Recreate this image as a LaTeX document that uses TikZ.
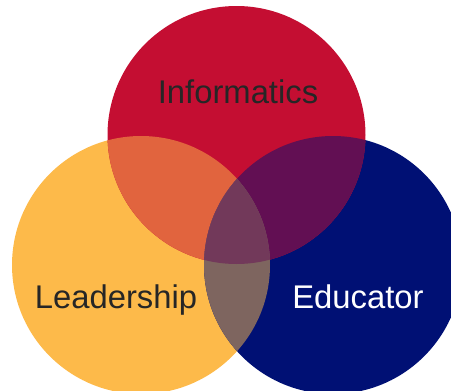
\documentclass[tikz,border=0pt]{standalone}
\usepackage{fontspec}
\setmainfont{Liberation Sans}
\definecolor{cred}{RGB}{196,14,50}
\definecolor{cyel}{RGB}{253,186,74}
\definecolor{cblu}{RGB}{0,16,116}
\definecolor{cry}{RGB}{225,100,62}
\definecolor{crb}{RGB}{98,15,83}
\definecolor{cyb}{RGB}{126,101,95}
\definecolor{cryb}{RGB}{114,57,90}
\definecolor{ctext}{RGB}{38,38,38}
\tikzset{lbl/.style={anchor=base,inner sep=0pt,font=\fontsize{32.8}{38}\selectfont}}
\begin{document}
\begin{tikzpicture}[x=1pt,y=-1pt]
\useasboundingbox (0,0) rectangle (451,391);
\clip (0,0) rectangle (451,391);
\def\R{129}
\coordinate (cr) at (236.5,135);
\coordinate (cy) at (141,265);
\coordinate (cb) at (333,265);
\fill[cyel] (cy) circle (\R);
\fill[cblu] (cb) circle (\R);
\fill[cred] (cr) circle (\R);
\begin{scope}
  \clip (cr) circle (\R);
  \fill[cry] (cy) circle (\R);
  \fill[crb] (cb) circle (\R);
\end{scope}
\begin{scope}
  \clip (cy) circle (\R);
  \fill[cyb] (cb) circle (\R);
  \clip (cr) circle (\R);
  \fill[cryb] (cb) circle (\R);
\end{scope}
\node[lbl,text=ctext] (inf) at (238,103.5) {Informatics};
\node[lbl,text=ctext] (lead) at (116,308) {Leadership};
\node[lbl,text=white] (edu) at (358,308) {Educator};
\end{tikzpicture}
\end{document}
